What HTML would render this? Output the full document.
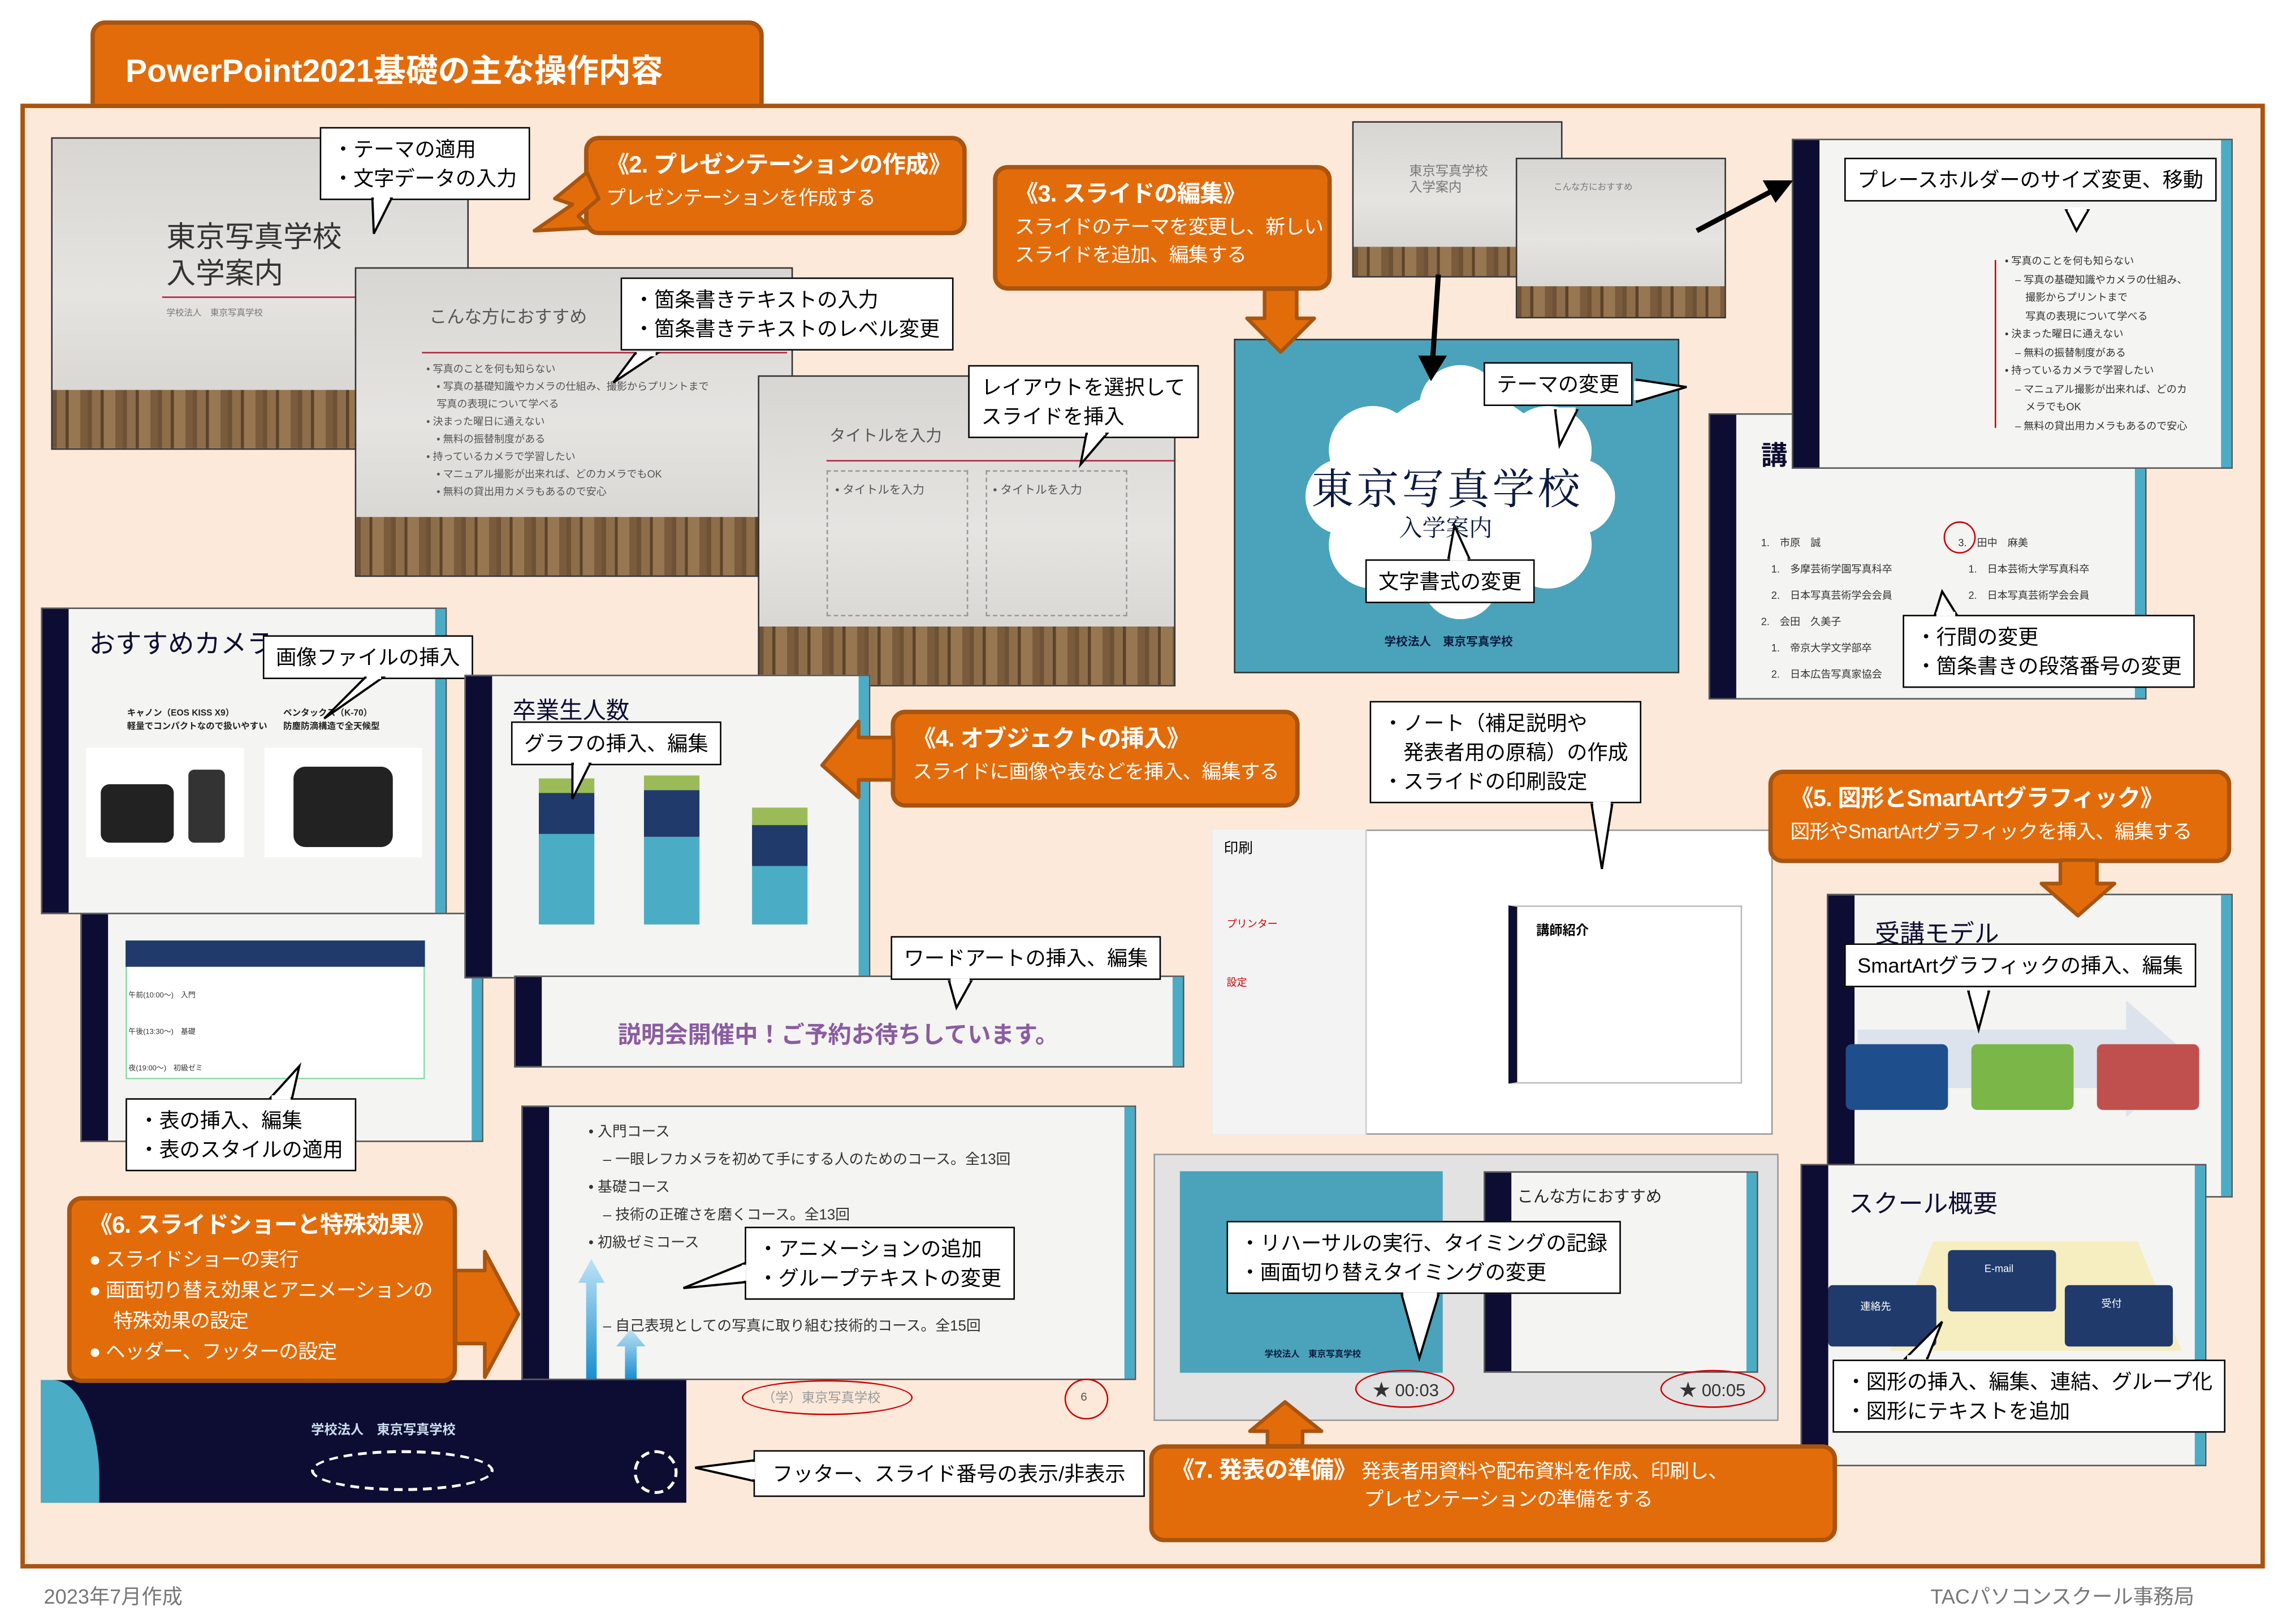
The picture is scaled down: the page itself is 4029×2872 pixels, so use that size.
<!DOCTYPE html>
<html><head><meta charset="utf-8">
<style>
*{margin:0;padding:0;box-sizing:border-box}
html,body{width:4029px;height:2872px;overflow:hidden;background:#fff}
#s{position:absolute;left:0;top:0;width:1560px;height:1112px;transform:scale(2.58269);transform-origin:0 0;font-family:"Liberation Sans","Noto Sans CJK JP",sans-serif}
.a{position:absolute}
.or{position:absolute;background:#e36c0a;border:3px solid #a9540f;border-radius:10px;color:#fff;padding:6px 12px;font-size:13.5px;line-height:19px;white-space:nowrap;letter-spacing:-0.3px}
.or b{font-size:16px;display:block;line-height:24px}
.co{position:absolute;background:#fff;border:1.5px solid #000;font-size:14px;line-height:20px;padding:4px 8px;color:#000;white-space:nowrap}
.wood{position:absolute;background:linear-gradient(180deg,#d8d6d2,#e6e4e1 50%,#d2d0cc);border:1px solid #333;overflow:hidden}
.wood:after{content:"";position:absolute;left:0;right:0;bottom:0;height:19%;background:repeating-linear-gradient(90deg,#6e5236 0 3px,#8d6d4a 3px 9px,#5c4329 9px 11px,#977652 11px 19px,#7a5b3b 19px 24px)}
.nav{position:absolute;background:#f4f4f2;border:1px solid #555;overflow:hidden}
.nav:before{content:"";position:absolute;left:0;top:0;bottom:0;width:18px;background:#0d0d33}
.nav:after{content:"";position:absolute;right:0;top:0;bottom:0;width:7px;background:#4bacc6}
.t{position:absolute;white-space:nowrap}
</style></head><body><div id="s">
<div class="a" style="left:62px;top:14px;width:461px;height:64px;background:#e36c0a;border:3px solid #a9540f;border-radius:10px 10px 0 0"></div>
<div class="t" style="left:86px;top:31px;color:#fff;font-weight:bold;font-size:22px">PowerPoint2021基礎の主な操作内容</div>
<div class="a" style="left:14px;top:71px;width:1537px;height:1003px;background:#fce9d9;border:3px solid #a9540f"></div>
<div class="t" style="left:30px;top:1083px;color:#777;font-size:14px">2023年7月作成</div>
<div class="t" style="left:1322px;top:1083px;color:#777;font-size:14px">TACパソコンスクール事務局</div>

<div class="wood" style="left:35px;top:94px;width:286px;height:214px"><div class="t" style="left:78px;top:56px;font-size:20px;color:#333;line-height:25px">東京写真学校<br>入学案内</div><div class="a" style="left:75px;top:108px;width:210px;height:1px;background:#b0243f"></div><div class="t" style="left:78px;top:114px;font-size:6px;color:#777">学校法人　東京写真学校</div></div>
<div class="wood" style="left:243px;top:183px;width:300px;height:212px"><div class="t" style="left:50px;top:24px;font-size:12px;color:#555">こんな方におすすめ</div><div class="a" style="left:45px;top:57px;width:250px;height:1px;background:#b0243f"></div><div class="t" style="left:48px;top:64px;font-size:7px;color:#555;line-height:12px">• 写真のことを何も知らない<br>　• 写真の基礎知識やカメラの仕組み、撮影からプリントまで<br>　写真の表現について学べる<br>• 決まった曜日に通えない<br>　• 無料の振替制度がある<br>• 持っているカメラで学習したい<br>　• マニュアル撮影が出来れば、どのカメラでもOK<br>　• 無料の貸出用カメラもあるので安心</div></div>
<div class="wood" style="left:519px;top:257px;width:286px;height:213px"><div class="t" style="left:48px;top:32px;font-size:11px;color:#555">タイトルを入力</div><div class="a" style="left:46px;top:57px;width:238px;height:1px;background:#b0243f"></div><div class="a" style="left:46px;top:64px;width:97px;height:100px;border:1px dashed #999"></div><div class="a" style="left:155px;top:64px;width:97px;height:100px;border:1px dashed #999"></div><div class="t" style="left:52px;top:72px;font-size:8px;color:#555">• タイトルを入力</div><div class="t" style="left:160px;top:72px;font-size:8px;color:#555">• タイトルを入力</div></div>
<div class="co" style="left:219px;top:87px">・テーマの適用<br>・文字データの入力</div>
<div class="co" style="left:425px;top:190px">・箇条書きテキストの入力<br>・箇条書きテキストのレベル変更</div>
<div class="co" style="left:663px;top:250px">レイアウトを選択して<br>スライドを挿入</div>
<div class="or" style="left:400px;top:93px;width:262px;height:68px"><b>《2. プレゼンテーションの作成》</b>プレゼンテーションを作成する</div>
<div class="or" style="left:680px;top:113px;width:232px;height:86px"><b>《3. スライドの編集》</b>スライドのテーマを変更し、新しい<br>スライドを追加、編集する</div>

<div class="wood" style="left:926px;top:83px;width:144px;height:107px"><div class="t" style="left:38px;top:28px;font-size:9px;color:#777;line-height:11px">東京写真学校<br>入学案内</div></div>
<div class="wood" style="left:1038px;top:108px;width:144px;height:110px"><div class="t" style="left:25px;top:14px;font-size:6px;color:#777">こんな方におすすめ</div></div>
<div class="a" style="left:845px;top:232px;width:305px;height:229px;background:#4aa3bb;border:1px solid #333"></div>
<svg class="a" style="left:880px;top:248px" width="240" height="180"><g fill="#fff"><circle cx="120" cy="90" r="70"/><circle cx="60" cy="60" r="30"/><circle cx="180" cy="60" r="30"/><circle cx="60" cy="125" r="30"/><circle cx="180" cy="125" r="30"/><circle cx="120" cy="30" r="28"/><circle cx="120" cy="150" r="26"/><circle cx="40" cy="92" r="26"/><circle cx="200" cy="92" r="26"/></g></svg>
<div class="t" style="left:898px;top:313px;font-size:29px;color:#0d1a40;font-family:'Noto Serif CJK SC',serif;letter-spacing:2px">東京写真学校</div>
<div class="t" style="left:958px;top:349px;font-size:16px;color:#0d1a40;font-family:'Noto Serif CJK SC',serif">入学案内</div>
<div class="t" style="left:948px;top:434px;font-size:8px;color:#0d1a40;font-weight:bold">学校法人　東京写真学校</div>
<div class="co" style="left:1016px;top:248px">テーマの変更</div>
<div class="co" style="left:935px;top:383px">文字書式の変更</div>
<div class="nav" style="left:1170px;top:283px;width:300px;height:196px"><div class="t" style="left:35px;top:14px;font-size:18px;color:#0d0d33;font-weight:bold">講</div><div class="t" style="left:35px;top:80px;font-size:7px;color:#333;line-height:18px">1.　市原　誠<br>　1.　多摩芸術学園写真科卒<br>　2.　日本写真芸術学会会員<br>2.　会田　久美子<br>　1.　帝京大学文学部卒<br>　2.　日本広告写真家協会</div><div class="t" style="left:170px;top:80px;font-size:7px;color:#333;line-height:18px">3.　田中　麻美<br>　1.　日本芸術大学写真科卒<br>　2.　日本写真芸術学会会員</div><div class="a" style="left:160px;top:73px;width:22px;height:22px;border:1px solid #c00;border-radius:50%"></div></div>
<div class="nav" style="left:1227px;top:95px;width:302px;height:226px"><div class="a" style="left:138px;top:82px;width:1px;height:115px;background:#c00"></div><div class="t" style="left:145px;top:78px;font-size:7px;color:#333;line-height:12.5px">• 写真のことを何も知らない<br>　– 写真の基礎知識やカメラの仕組み、<br>　　撮影からプリントまで<br>　　写真の表現について学べる<br>• 決まった曜日に通えない<br>　– 無料の振替制度がある<br>• 持っているカメラで学習したい<br>　– マニュアル撮影が出来れば、どのカ<br>　　メラでもOK<br>　– 無料の貸出用カメラもあるので安心</div></div>
<div class="co" style="left:1263px;top:108px">プレースホルダーのサイズ変更、移動</div>
<div class="co" style="left:1303px;top:421px">・行間の変更<br>・箇条書きの段落番号の変更</div>

<div class="nav" style="left:28px;top:416px;width:278px;height:210px"><div class="t" style="left:32px;top:10px;font-size:18px;color:#0d0d33">おすすめカメラ</div><div class="t" style="left:58px;top:66px;font-size:6px;color:#222;font-weight:bold">キャノン（EOS KISS X9）<br>軽量でコンパクトなので扱いやすい</div><div class="t" style="left:165px;top:66px;font-size:6px;color:#222;font-weight:bold">ペンタックス（K-70）<br>防塵防滴構造で全天候型</div><div class="a" style="left:30px;top:95px;width:108px;height:75px;background:#fff"></div><div class="a" style="left:152px;top:95px;width:108px;height:75px;background:#fff"></div><div class="a" style="left:40px;top:120px;width:50px;height:40px;background:#222;border-radius:6px"></div><div class="a" style="left:100px;top:110px;width:25px;height:50px;background:#333;border-radius:4px"></div><div class="a" style="left:172px;top:108px;width:68px;height:55px;background:#222;border-radius:8px"></div></div>
<div class="co" style="left:180px;top:435px">画像ファイルの挿入</div>
<div class="nav" style="left:55px;top:625px;width:276px;height:157px"><div class="a" style="left:30px;top:18px;width:205px;height:95px;background:#fff;border:1px solid #8da"></div><div class="a" style="left:30px;top:18px;width:205px;height:18px;background:#1f3a6b"></div><div class="t" style="left:32px;top:44px;font-size:5px;color:#333;line-height:25px">午前(10:00～)　入門<br>午後(13:30～)　基礎<br>夜(19:00～)　初級ゼミ</div></div>
<div class="co" style="left:86px;top:752px">・表の挿入、編集<br>・表のスタイルの適用</div>
<div class="nav" style="left:318px;top:462px;width:278px;height:208px"><div class="t" style="left:32px;top:10px;font-size:16px;color:#0d0d33">卒業生人数</div><div class="a" style="left:50px;top:100px;width:38px;height:70px;background:#4bacc6"></div><div class="a" style="left:50px;top:78px;width:38px;height:30px;background:#1f3a6b"></div><div class="a" style="left:50px;top:70px;width:38px;height:10px;background:#9bbb59"></div><div class="a" style="left:122px;top:110px;width:38px;height:60px;background:#4bacc6"></div><div class="a" style="left:122px;top:78px;width:38px;height:32px;background:#1f3a6b"></div><div class="a" style="left:122px;top:68px;width:38px;height:10px;background:#9bbb59"></div><div class="a" style="left:196px;top:130px;width:38px;height:40px;background:#4bacc6"></div><div class="a" style="left:196px;top:100px;width:38px;height:30px;background:#1f3a6b"></div><div class="a" style="left:196px;top:90px;width:38px;height:12px;background:#9bbb59"></div></div>
<div class="co" style="left:350px;top:494px">グラフの挿入、編集</div>
<div class="nav" style="left:352px;top:668px;width:459px;height:63px"><div class="t" style="left:70px;top:26px;font-size:16px;color:#8a5ca0;font-weight:bold">説明会開催中！ご予約お待ちしています。</div></div>
<div class="co" style="left:610px;top:641px">ワードアートの挿入、編集</div>
<div class="or" style="left:610px;top:486px;width:280px;height:67px"><b>《4. オブジェクトの挿入》</b>スライドに画像や表などを挿入、編集する</div>

<div class="a" style="left:830px;top:568px;width:384px;height:209px;background:#fff;border:1px solid #999"></div>
<div class="a" style="left:830px;top:568px;width:106px;height:209px;background:#f3f3f3;border-right:1px solid #ccc"></div>
<div class="t" style="left:838px;top:572px;font-size:10px">印刷</div>
<div class="t" style="left:840px;top:628px;font-size:7px;color:#c00">プリンター</div>
<div class="t" style="left:840px;top:668px;font-size:7px;color:#c00">設定</div>
<div class="a" style="left:1033px;top:620px;width:160px;height:122px;background:#fff;border:1px solid #bbb;border-left:6px solid #0d0d33"></div>
<div class="t" style="left:1052px;top:630px;font-size:9px;font-weight:bold">講師紹介</div>
<div class="co" style="left:938px;top:480px">・ノート（補足説明や<br>　発表者用の原稿）の作成<br>・スライドの印刷設定</div>
<div class="or" style="left:1211px;top:527px;width:317px;height:64px"><b>《5. 図形とSmartArtグラフィック》</b>図形やSmartArtグラフィックを挿入、編集する</div>

<div class="nav" style="left:1251px;top:612px;width:278px;height:208px"><div class="t" style="left:32px;top:12px;font-size:17px;color:#0d0d33">受講モデル</div><div class="a" style="left:20px;top:72px;width:230px;height:80px;background:#dde3ec;clip-path:polygon(0 25%,80% 25%,80% 0,100% 50%,80% 100%,80% 75%,0 75%)"></div><div class="a" style="left:12px;top:102px;width:70px;height:45px;background:#1f4e8c;border-radius:4px"></div><div class="a" style="left:98px;top:102px;width:70px;height:45px;background:#7ab648;border-radius:4px"></div><div class="a" style="left:184px;top:102px;width:70px;height:45px;background:#c0504d;border-radius:4px"></div></div>
<div class="co" style="left:1263px;top:646px">SmartArtグラフィックの挿入、編集</div>
<div class="nav" style="left:1233px;top:797px;width:278px;height:207px"><div class="t" style="left:32px;top:12px;font-size:17px;color:#0d0d33">スクール概要</div><div class="a" style="left:60px;top:52px;width:200px;height:75px;background:#f6eec0;clip-path:polygon(15% 0,85% 0,100% 100%,0 100%)"></div><div class="a" style="left:100px;top:58px;width:74px;height:42px;background:#1f3a6b;border-radius:3px"></div><div class="a" style="left:18px;top:82px;width:74px;height:42px;background:#1f3a6b;border-radius:3px"></div><div class="a" style="left:180px;top:82px;width:74px;height:42px;background:#1f3a6b;border-radius:3px"></div><div class="t" style="left:125px;top:68px;font-size:7px;color:#fff">E-mail</div><div class="t" style="left:40px;top:92px;font-size:7px;color:#fff">連絡先</div><div class="t" style="left:205px;top:90px;font-size:7px;color:#fff">受付</div></div>
<div class="co" style="left:1255px;top:931px">・図形の挿入、編集、連結、グループ化<br>・図形にテキストを追加</div>

<div class="nav" style="left:357px;top:757px;width:421px;height:188px"><div class="t" style="left:45px;top:8px;font-size:10px;color:#333;line-height:19px">• 入門コース<br>　– 一眼レフカメラを初めて手にする人のためのコース。全13回<br>• 基礎コース<br>　– 技術の正確さを磨くコース。全13回<br>• 初級ゼミコース<br><br><br>　– 自己表現としての写真に取り組む技術的コース。全15回</div></div>
<div class="a" style="left:508px;top:945px;width:117px;height:24px;border:1.5px solid #c00;border-radius:50%"></div>
<div class="t" style="left:522px;top:950px;font-size:9px;color:#999">（学）東京写真学校</div>
<div class="a" style="left:729px;top:944px;width:30px;height:28px;border:1.5px solid #c00;border-radius:50%"></div>
<div class="t" style="left:740px;top:952px;font-size:8px;color:#555">6</div>
<div class="a" style="left:396px;top:862px;width:18px;height:82px;background:linear-gradient(#bfe3f5,#1b8ed0);clip-path:polygon(50% 0,100% 20%,70% 20%,70% 100%,30% 100%,30% 20%,0 20%)"></div>
<div class="a" style="left:422px;top:910px;width:20px;height:34px;background:linear-gradient(#bfe3f5,#1b8ed0);clip-path:polygon(50% 0,100% 35%,70% 35%,70% 100%,30% 100%,30% 35%,0 35%)"></div>
<div class="co" style="left:510px;top:840px">・アニメーションの追加<br>・グループテキストの変更</div>
<div class="a" style="left:28px;top:945px;width:442px;height:84px;background:#0d0d33"></div>
<div class="a" style="left:28px;top:945px;width:40px;height:84px;background:#4bacc6;border-radius:0 80% 0 0"></div>
<div class="t" style="left:213px;top:972px;font-size:9px;color:#cde;font-weight:bold">学校法人　東京写真学校</div>
<div class="a" style="left:213px;top:993px;width:125px;height:28px;border:2px dashed #fff;border-radius:50%"></div>
<div class="a" style="left:434px;top:993px;width:30px;height:30px;border:2px dashed #fff;border-radius:50%"></div>
<div class="co" style="left:516px;top:993px;padding:5px 12px">フッター、スライド番号の表示/非表示</div>
<div class="or" style="left:46px;top:819px;width:267px;height:128px;font-size:13.5px;line-height:21px"><b>《6. スライドショーと特殊効果》</b>● スライドショーの実行<br>● 画面切り替え効果とアニメーションの<br>　 特殊効果の設定<br>● ヘッダー、フッターの設定</div>

<div class="a" style="left:790px;top:790px;width:428px;height:183px;background:#e2e2e2;border:1px solid #999"></div>
<div class="a" style="left:808px;top:802px;width:180px;height:138px;background:#4aa3bb"></div>
<div class="t" style="left:866px;top:922px;font-size:6px;color:#0d1a40;font-weight:bold">学校法人　東京写真学校</div>
<div class="nav" style="left:1016px;top:802px;width:188px;height:138px"><div class="t" style="left:22px;top:8px;font-size:11px;color:#222">こんな方におすすめ</div></div>
<div class="a" style="left:928px;top:938px;width:68px;height:26px;border:1.5px solid #c00;border-radius:50%"></div>
<div class="t" style="left:940px;top:943px;font-size:12px;color:#333">★ 00:03</div>
<div class="a" style="left:1137px;top:938px;width:72px;height:26px;border:1.5px solid #c00;border-radius:50%"></div>
<div class="t" style="left:1150px;top:943px;font-size:12px;color:#333">★ 00:05</div>
<div class="co" style="left:840px;top:836px">・リハーサルの実行、タイミングの記録<br>・画面切り替えタイミングの変更</div>
<div class="or" style="left:787px;top:989px;width:471px;height:67px;font-size:13.5px"><span style="font-size:16px;font-weight:bold">《7. 発表の準備》</span> 発表者用資料や配布資料を作成、印刷し、<br>　　　　　　　　　　プレゼンテーションの準備をする</div>

<svg class="a" style="left:0;top:0" width="1560" height="1112">
<g fill="#fff" stroke="#000" stroke-width="1.5">
<polygon points="255,136 268,136 256,160"/><polygon points="435,242 450,242 420,262"/><polygon points="744,297 758,297 740,318" />
<polygon points="1065,281 1080,281 1068,305"/><polygon points="992,382 1006,382 996,360"/><polygon points="1121,260 1121,275 1155,265"/>
<polygon points="1415,144 1430,144 1422,158"/><polygon points="1325,421 1340,421 1330,405"/>
<polygon points="250,464 262,464 222,492"/><polygon points="392,523 404,523 392,547"/><polygon points="650,672 665,672 655,690"/>
<polygon points="185,752 200,752 205,730"/><polygon points="1090,551 1104,551 1097,595"/><polygon points="1348,679 1362,679 1355,705"/>
<polygon points="1305,930 1320,930 1330,905"/><polygon points="510,865 510,878 468,882"/><polygon points="960,887 985,887 972,930"/>
<polygon points="516,1000 516,1014 476,1005"/>
</g>
<g fill="#fff" stroke="none">
<rect x="256" y="134" width="11" height="3"/><rect x="436" y="241" width="13" height="3"/><rect x="745" y="295" width="12" height="3"/><rect x="1066" y="279" width="13" height="3"/><rect x="993" y="381" width="12" height="3"/><rect x="1119" y="261" width="3" height="13"/><rect x="1416" y="142" width="13" height="3"/><rect x="1326" y="419" width="13" height="3"/><rect x="251" y="462" width="10" height="3"/><rect x="393" y="521" width="10" height="3"/><rect x="651" y="670" width="13" height="3"/><rect x="186" y="750" width="13" height="3"/><rect x="1091" y="549" width="12" height="3"/><rect x="1349" y="677" width="12" height="3"/><rect x="1306" y="928" width="13" height="3"/><rect x="508" y="866" width="3" height="11"/><rect x="961" y="885" width="23" height="3"/><rect x="514" y="1001" width="3" height="12"/>
</g>
<g fill="#e36c0a" stroke="#a9540f" stroke-width="2.5" stroke-linejoin="round">
<polygon points="402,118 380,136 392,140 366,158 404,156 396,148 410,136"/>
<polygon points="866,198 888,198 888,218 900,218 877,241 854,218 866,218"/>
<polygon points="612,505 588,505 588,494 563,524 588,546 588,534 612,534"/>
<polygon points="1411,589 1436,589 1436,605 1448,605 1423,627 1398,605 1411,605"/>
<polygon points="312,870 332,870 332,857 355,900 332,943 332,920 312,920"/>
<polygon points="868,990 892,990 892,980 905,980 880,960 856,980 868,980"/>
</g>
<g stroke="#000" stroke-width="3.5" fill="#000">
<line x1="1162" y1="158" x2="1215" y2="130"/><polygon points="1227,124 1208,124 1216,138" stroke-width="1"/>
<line x1="985" y1="188" x2="981" y2="248"/><polygon points="980,260 972,244 990,244" stroke-width="1"/>
</g>
</svg>
</div></body></html>
